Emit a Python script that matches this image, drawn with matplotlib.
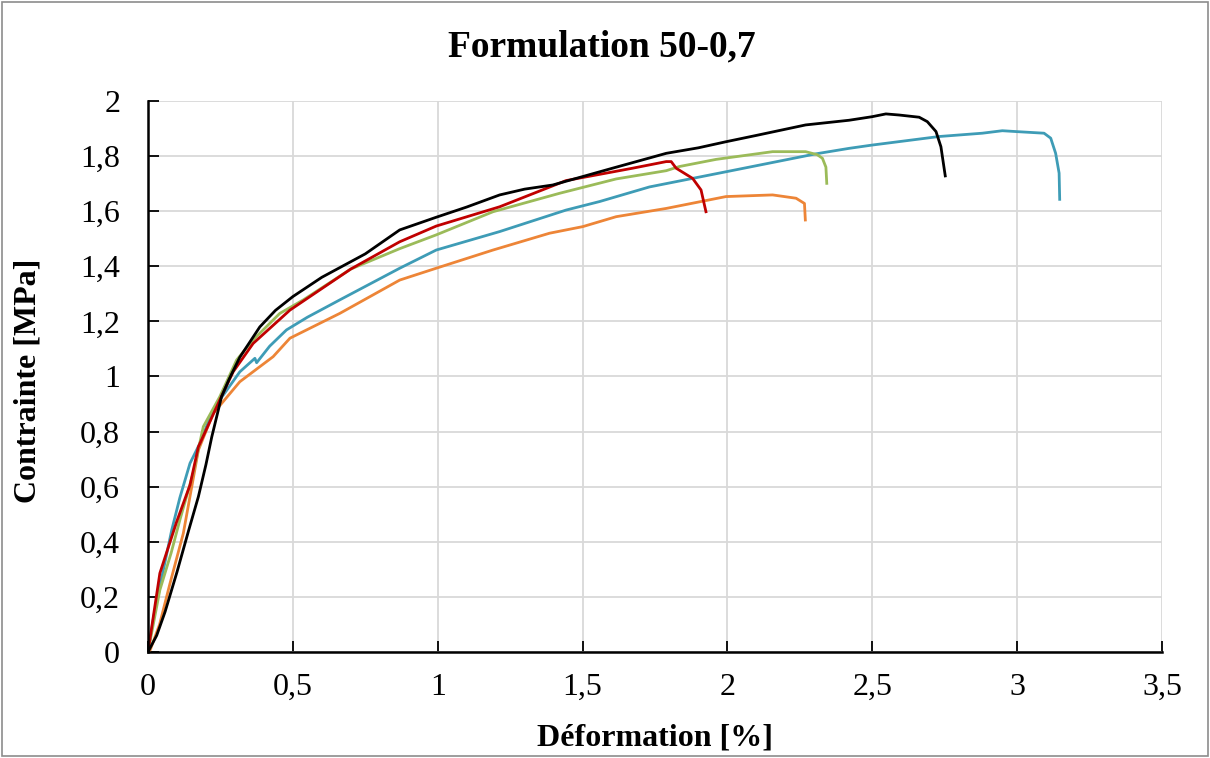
import matplotlib
matplotlib.use('Agg')
import matplotlib.pyplot as plt
from matplotlib.patches import Rectangle
from matplotlib.ticker import FuncFormatter

plt.rcParams['font.family'] = ['Liberation Serif', 'DejaVu Serif']

# strain [%] / stress [MPa], one pair of lists per specimen
orange_x = [0, 0.005, 0.04, 0.076, 0.122, 0.174, 0.225, 0.254, 0.317, 0.432, 0.49, 0.662, 0.869,
            0.995, 1.191, 1.386, 1.501, 1.616, 1.789, 1.995, 2.156, 2.237, 2.266, 2.269]
orange_y = [0, 0, 0.1, 0.249, 0.431, 0.733, 0.866, 0.902, 0.981, 1.072, 1.139, 1.229, 1.35,
            1.393, 1.459, 1.52, 1.544, 1.58, 1.61, 1.653, 1.659, 1.647, 1.628, 1.568]

teal_x = [0, 0.02, 0.053, 0.082, 0.11, 0.145, 0.162, 0.179, 0.21, 0.248, 0.317, 0.369, 0.375, 0.42,
          0.478, 0.55, 0.662, 0.869, 0.995, 1.214, 1.443, 1.559, 1.731, 1.995, 2.305, 2.42, 2.5,
          2.731, 2.88, 2.949, 2.995, 3.093, 3.116, 3.133, 3.145, 3.147]
teal_y = [0, 0.13, 0.298, 0.443, 0.56, 0.685, 0.721, 0.757, 0.84, 0.915, 1.017, 1.066, 1.05, 1.11,
          1.169, 1.215, 1.278, 1.393, 1.459, 1.526, 1.604, 1.635, 1.688, 1.743, 1.808, 1.828, 1.84,
          1.871, 1.883, 1.892, 1.889, 1.883, 1.865, 1.81, 1.738, 1.643]

green_x = [0, 0.041, 0.08, 0.110, 0.156, 0.191, 0.248, 0.306, 0.363, 0.455, 0.536, 0.7, 0.869,
           0.995, 1.191, 1.421, 1.616, 1.789, 1.834, 1.961, 2.156, 2.27, 2.31, 2.328, 2.34, 2.343]
green_y = [0, 0.225, 0.36, 0.479, 0.649, 0.818, 0.927, 1.06, 1.133, 1.229, 1.278, 1.39, 1.464,
           1.514, 1.598, 1.665, 1.717, 1.747, 1.762, 1.788, 1.816, 1.816, 1.805, 1.792, 1.76, 1.701]

red_x = [0, 0.041, 0.099, 0.145, 0.174, 0.248, 0.294, 0.363, 0.49, 0.7, 0.869, 0.995, 1.214,
         1.443, 1.673, 1.789, 1.806, 1.823, 1.88, 1.909, 1.926]
red_y = [0, 0.286, 0.473, 0.606, 0.745, 0.915, 1.017, 1.12, 1.241, 1.39, 1.489, 1.546, 1.616,
         1.711, 1.756, 1.78, 1.78, 1.756, 1.719, 1.677, 1.598]

black_x = [0, 0.03, 0.059, 0.1, 0.14, 0.174, 0.2, 0.22, 0.254, 0.28, 0.317, 0.386, 0.44, 0.5, 0.6,
           0.75, 0.869, 0.995, 1.1, 1.214, 1.3, 1.397, 1.478, 1.6, 1.789, 1.9, 1.995, 2.1, 2.27,
           2.42, 2.5, 2.547, 2.593, 2.662, 2.69, 2.72, 2.737, 2.752]
black_y = [0, 0.06, 0.146, 0.29, 0.44, 0.564, 0.68, 0.78, 0.927, 0.99, 1.07, 1.18, 1.24, 1.29, 1.36,
           1.445, 1.532, 1.578, 1.615, 1.659, 1.68, 1.695, 1.719, 1.755, 1.81, 1.83, 1.852, 1.875,
           1.913, 1.93, 1.943, 1.953, 1.949, 1.941, 1.925, 1.889, 1.834, 1.728]

x_ticks = [0, 0.5, 1, 1.5, 2, 2.5, 3, 3.5]
y_ticks = [0, 0.2, 0.4, 0.6, 0.8, 1, 1.2, 1.4, 1.6, 1.8, 2]

fig = plt.figure(figsize=(12.1, 7.58), dpi=100)
ax = fig.add_axes([0.1223, 0.1398, 0.838, 0.727])

lw = 2.0
ax.plot(orange_x, orange_y, color='#ED8537', lw=lw)
ax.plot(teal_x, teal_y, color='#3E9CB6', lw=lw)
ax.plot(green_x, green_y, color='#9BBB59', lw=lw)
ax.plot(red_x, red_y, color='#C00000', lw=lw)
ax.plot(black_x, black_y, color='black', lw=lw)

ax.set_xlim(0, 3.5)
ax.set_ylim(0, 2)
ax.set_xticks(x_ticks)
ax.set_yticks(y_ticks)

comma = FuncFormatter(lambda v, p: ('%g' % round(v, 2)).replace('.', ','))
ax.xaxis.set_major_formatter(comma)
ax.yaxis.set_major_formatter(comma)

ax.grid(True, color='#D9D9D9', lw=1.3)
ax.set_axisbelow(True)
for s in ['top', 'right']:
    ax.spines[s].set_visible(False)
for s in ['left', 'bottom']:
    ax.spines[s].set_linewidth(1.8)
    ax.spines[s].set_zorder(5)
ax.tick_params(direction='in', length=8, width=1.3, labelsize=23)
ax.tick_params(axis='x', pad=15)
ax.tick_params(axis='y', pad=20)

fig.text(0.497, 0.938, 'Formulation 50-0,7', fontsize=27, fontweight='bold', ha='center', va='center')
fig.text(0.541, 0.026, 'Déformation [%]', fontsize=23, fontweight='bold', ha='center', va='center')
fig.text(0.0231, 0.497, 'Contrainte [MPa]', fontsize=23, fontweight='bold', ha='center', va='center',
         rotation=90)

fig.patches.append(Rectangle((0.002, 0.003), 0.996, 0.994, transform=fig.transFigure,
                             fill=False, edgecolor='#8C8C8C', lw=1.2))

fig.savefig('out.png', dpi=100, facecolor='white')
